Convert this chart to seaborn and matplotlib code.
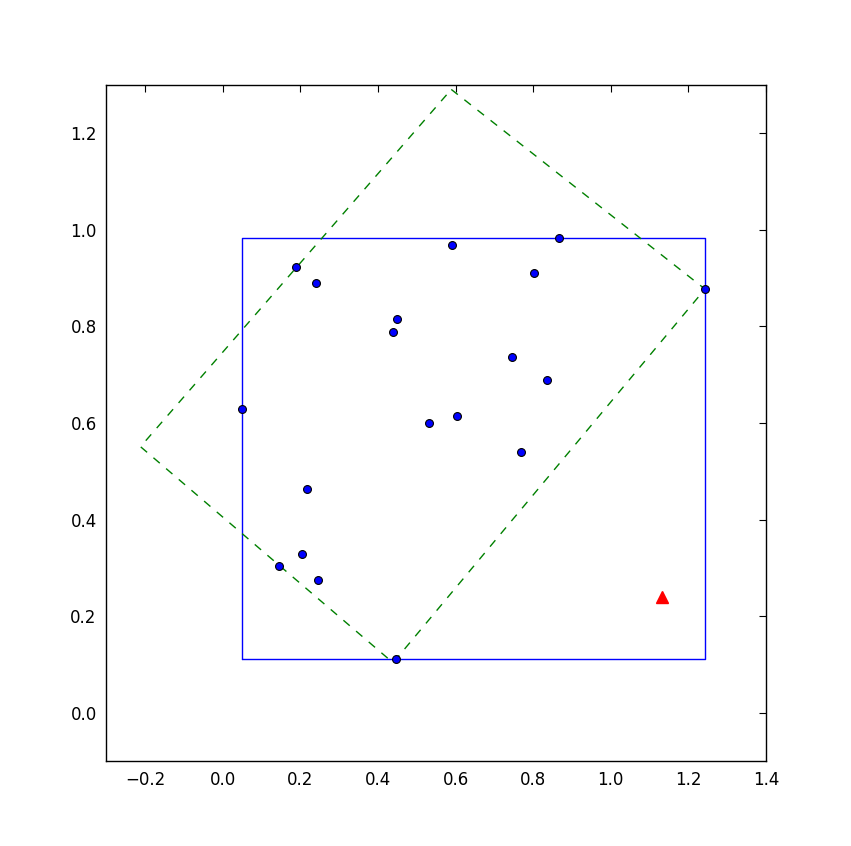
import pandas as pd
import seaborn as sns
import matplotlib.pyplot as plt

# sample points
px = [0.050, 0.189, 0.241, 0.591, 0.867, 0.802, 1.243, 0.450, 0.439, 0.746,
      0.836, 0.532, 0.604, 0.769, 0.218, 0.205, 0.146, 0.246, 0.447]
py = [0.628, 0.922, 0.889, 0.968, 0.983, 0.910, 0.877, 0.815, 0.788, 0.736,
      0.688, 0.601, 0.614, 0.539, 0.464, 0.329, 0.304, 0.275, 0.111]

# axis-aligned bounding box
box_x = [0.050, 1.243, 1.243, 0.050, 0.050]
box_y = [0.111, 0.111, 0.983, 0.983, 0.111]

# minimum-area rotated rectangle
rot_x = [0.589, 1.243, 0.439, -0.212, 0.589]
rot_y = [1.290, 0.877, 0.104, 0.551, 1.290]

# query point
qx = [1.132]
qy = [0.240]

sns.set_style("white")
plt.rcParams['font.family'] = ['DejaVu Sans']
plt.rcParams['xtick.direction'] = 'in'
plt.rcParams['ytick.direction'] = 'in'

fig = plt.figure(figsize=(8.51, 8.46), dpi=100)
ax = fig.add_axes([0.125, 0.1, 0.775, 0.8])

ax.plot(box_x, box_y, color='blue', linewidth=1.0)
ax.plot(rot_x, rot_y, color='green', linestyle='--', linewidth=1.0,
        dashes=(6, 6))

df = pd.DataFrame({'x': px, 'y': py})
sns.scatterplot(data=df, x='x', y='y', ax=ax, color='blue', edgecolor='black',
                linewidth=0.8, s=32, zorder=3)
ax.plot(qx, qy, marker='^', color='red', markersize=9, linestyle='none')

ax.set_xlim(-0.3, 1.4)
ax.set_ylim(-0.1, 1.3)
ax.set_xticks([-0.2, 0.0, 0.2, 0.4, 0.6, 0.8, 1.0, 1.2, 1.4])
ax.set_yticks([0.0, 0.2, 0.4, 0.6, 0.8, 1.0, 1.2])
ax.set_xlabel('')
ax.set_ylabel('')
ax.tick_params(direction='in', length=5, width=0.8, top=True, right=True,
               labelsize=12, colors='black', pad=7)
for sp in ax.spines.values():
    sp.set_color('black')
    sp.set_linewidth(1.0)

fig.savefig('out.png', dpi=100, facecolor='white')
